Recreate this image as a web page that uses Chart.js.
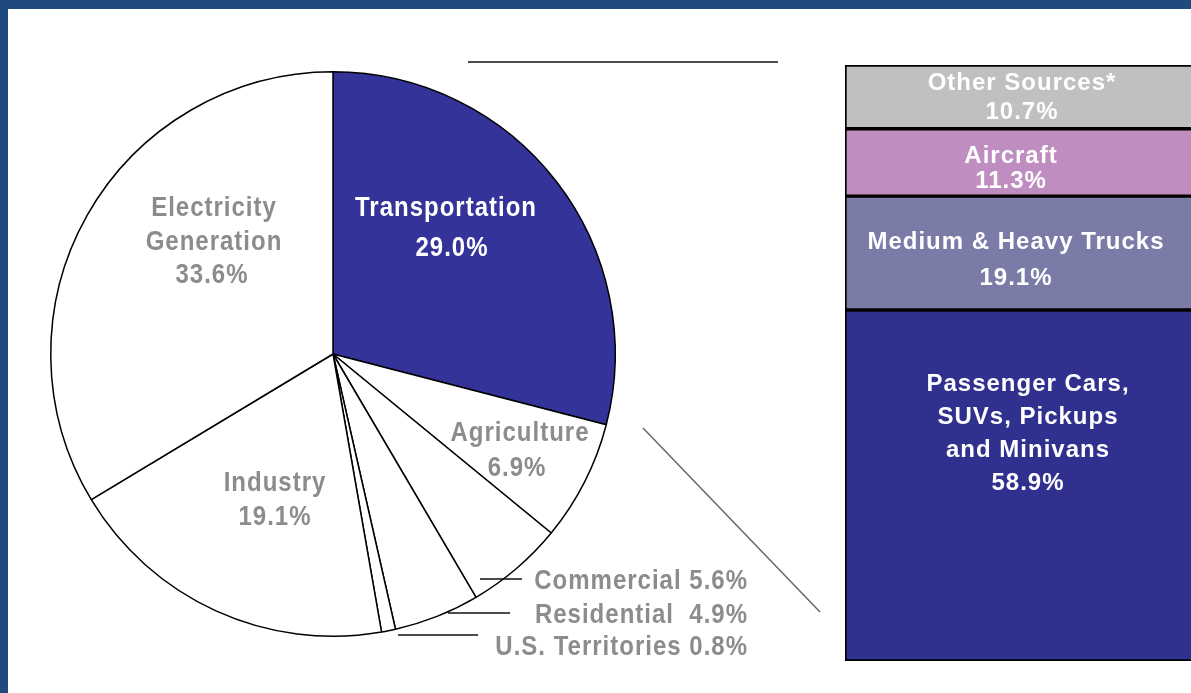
<!DOCTYPE html>
<html><head><meta charset="utf-8">
<script src="https://cdn.jsdelivr.net/npm/chart.js@4.4.0/dist/chart.umd.min.js"></script>
<style>
html,body{margin:0;padding:0;background:#fff;overflow:hidden}
#wrap{position:relative;width:1191px;height:693px;background:#fff;overflow:hidden}
#bt{position:absolute;left:0;top:0;width:1191px;height:9px;background:#1f4a7e}
#bl{position:absolute;left:0;top:0;width:8px;height:693px;background:#1f4a7e}
#pie{position:absolute;left:0;top:0}
#bar{position:absolute;left:845px;top:65px}
</style></head><body>
<div id="wrap">
<canvas id="pie" width="1191" height="693"></canvas>
<canvas id="bar" width="350" height="596"></canvas>
<div id="bt"></div><div id="bl"></div>
</div>
<script>
// ---- data ----
const sectors = ['Transportation','Agriculture','Commercial','Residential','U.S. Territories','Industry','Electricity Generation'];
const sectorShares = [29.0, 6.9, 5.6, 4.9, 0.8, 19.1, 33.6];
const modes = ['Passenger Cars, SUVs, Pickups and Minivans','Medium & Heavy Trucks','Aircraft','Other Sources*'];
const modeShares = [58.9, 19.1, 11.3, 10.7];

// ---- text lines (from data) ----
const pct = v => v.toFixed(1) + '%';
const sectorLines = [
  [sectors[0], pct(sectorShares[0])],
  [sectors[1], pct(sectorShares[1])],
  [sectors[2] + ' ' + pct(sectorShares[2])],
  [sectors[3] + '  ' + pct(sectorShares[3])],
  [sectors[4] + ' ' + pct(sectorShares[4])],
  [sectors[5], pct(sectorShares[5])],
  ['Electricity', 'Generation', pct(sectorShares[6])]
];
const modeLines = [
  ['Passenger Cars,', 'SUVs, Pickups', 'and Minivans', pct(modeShares[0])],
  [modes[1], pct(modeShares[1])],
  [modes[2], pct(modeShares[2])],
  [modes[3], pct(modeShares[3])]
];

// ---- styles / layout ----
const FONT = 'bold 24px "Liberation Sans", Arial, sans-serif';
const GRAY = '#8c8c8c';
const sectorColors = ['#333399','#ffffff','#ffffff','#ffffff','#ffffff','#ffffff','#ffffff'];
const modeColors = ['#30308f','#7b7ba8','#bf8dbf','#c0c0c0'];
// offsets relative to pie centre
const sectorLabelLayout = [
  {dx:[113,119], dy:[-148,-108], color:'#ffffff', align:'center'},
  {dx:[187,184], dy:[77,112], color:GRAY, align:'center'},
  {dx:[415], dy:[225], color:GRAY, align:'right', leader:[147,225,189,225]},
  {dx:[415], dy:[259], color:GRAY, align:'right', leader:[115,259,177,259]},
  {dx:[415], dy:[291], color:GRAY, align:'right', leader:[65,281,145,281]},
  {dx:[-58,-58], dy:[127,161], color:GRAY, align:'center'},
  {dx:[-119,-119,-121], dy:[-148,-114,-81], color:GRAY, align:'center'}
];
const modeLabelLayout = [
  {dx:8, first:72, lh:33},
  {dx:-4, first:44, lh:36},
  {dx:-9, first:26, lh:25},
  {dx:2, first:16, lh:29}
];

function drawText(ctx, txt, x, y, align, color, sy){
  ctx.save();
  ctx.font = FONT;
  try { ctx.letterSpacing = '1px'; } catch(e){}
  ctx.fillStyle = color;
  ctx.textAlign = align;
  ctx.textBaseline = 'alphabetic';
  ctx.translate(x, y + 8.6 * sy);
  ctx.scale(1, sy);
  ctx.fillText(txt, 0, 0);
  ctx.restore();
}

const pieLabels = {
  id:'pieLabels',
  afterDraw(chart){
    const ctx = chart.ctx;
    const arc = chart.getDatasetMeta(0).data[0];
    const cx = arc.x, cy = arc.y;
    // decorative lines
    ctx.save();
    ctx.strokeStyle = '#111'; ctx.lineWidth = 1.5;
    ctx.beginPath(); ctx.moveTo(cx+135, cy-292); ctx.lineTo(cx+445, cy-292); ctx.stroke();
    ctx.strokeStyle = '#666'; ctx.lineWidth = 1.5;
    ctx.beginPath(); ctx.moveTo(cx+310, cy+74); ctx.lineTo(cx+487, cy+258); ctx.stroke();
    ctx.restore();
    sectorLines.forEach((lines, i) => {
      const L = sectorLabelLayout[i];
      if (L.leader){
        ctx.save(); ctx.strokeStyle = '#111'; ctx.lineWidth = 1.5;
        ctx.beginPath(); ctx.moveTo(cx+L.leader[0], cy+L.leader[1]); ctx.lineTo(cx+L.leader[2], cy+L.leader[3]); ctx.stroke();
        ctx.restore();
      }
      lines.forEach((t, j) => drawText(ctx, t, cx + L.dx[Math.min(j, L.dx.length-1)], cy + L.dy[j], L.align, L.color, 1.15));
    });
  }
};

new Chart(document.getElementById('pie'), {
  type:'pie',
  data:{ labels:sectors, datasets:[{ data:sectorShares, backgroundColor:sectorColors, borderColor:'#000', borderWidth:1.5, hoverOffset:0 }] },
  options:{
    responsive:false, animation:false, events:[],
    layout:{ padding:{ left:50, right:575, top:71, bottom:56 } },
    plugins:{ legend:{display:false}, tooltip:{enabled:false} }
  },
  plugins:[pieLabels]
});

const barLabels = {
  id:'barLabels',
  afterDraw(chart){
    const ctx = chart.ctx;
    modeLines.forEach((lines, i) => {
      const el = chart.getDatasetMeta(i).data[0];
      const top = Math.min(el.y, el.base);
      const L = modeLabelLayout[i];
      lines.forEach((t, j) => drawText(ctx, t, el.x + L.dx, top + L.first + j*L.lh, 'center', '#ffffff', 1.0));
    });
  }
};

new Chart(document.getElementById('bar'), {
  type:'bar',
  data:{ labels:['Transportation'], datasets: modes.map((m, i) => ({
    label:m, data:[modeShares[i]], backgroundColor:modeColors[i], borderColor:'#000', borderWidth:2, borderSkipped:false
  })) },
  options:{
    responsive:false, animation:false, events:[],
    layout:{ padding:0 },
    datasets:{ bar:{ barPercentage:1, categoryPercentage:1 } },
    scales:{ x:{ stacked:true, display:false }, y:{ stacked:true, display:false, min:0, max:100 } },
    plugins:{ legend:{display:false}, tooltip:{enabled:false} }
  },
  plugins:[barLabels]
});
</script>
</body></html>
